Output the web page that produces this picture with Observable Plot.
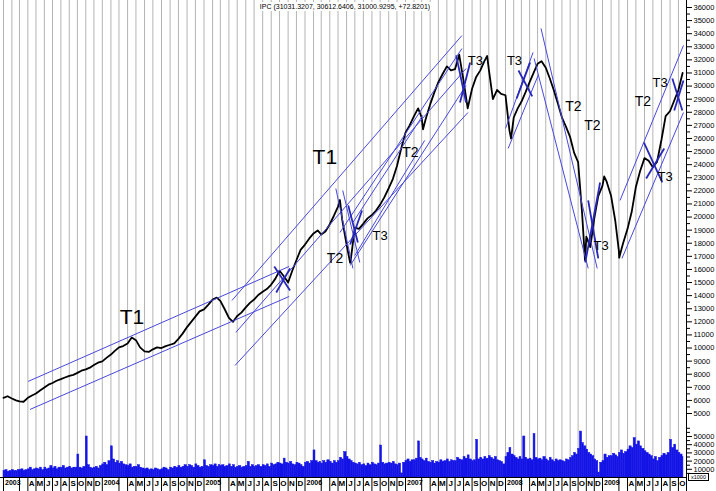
<!DOCTYPE html>
<html><head><meta charset="utf-8">
<script src="https://cdn.jsdelivr.net/npm/d3@7"></script>
<script src="https://cdn.jsdelivr.net/npm/@observablehq/plot@0.6"></script>
<style>
html,body{margin:0;padding:0;background:#fff;}
#wrap{position:relative;width:716px;height:491px;overflow:hidden;font-family:"Liberation Sans",Arial,sans-serif;}
#wrap svg{position:absolute;left:0;display:block;}
#title{position:absolute;top:2px;left:345px;transform:translateX(-50%);background:#fff;font-size:7px;padding:0 2px;white-space:nowrap;color:#000;line-height:9px;}
#unit{position:absolute;left:688px;top:473px;width:19px;height:6px;border:1px solid #000;background:#fff;font-size:5.5px;line-height:6px;text-align:center;color:#000;}
</style></head><body><div id="wrap"></div>
<script>
// ---- data (IPC, semi-monthly samples on the 1st and 16th) ----
const ipc2003 = [6200,6320,6150,6000,5920,5900,6200,6380,6530,6760,6990,7200,7330,7500,7620,7750,7880,7950,8100,8270,8370,8500,8700,8880];
const ipc2004 = [8980,9250,9500,9800,10050,10150,10350,10800,10600,10050,9750,9700,9900,10050,10000,10150,10250,10350,10700,11100,11600,12000,12400,12800];
const ipc2005 = [12950,13300,13700,13850,13600,13000,12300,12000,12450,12700,13100,13450,13700,14050,14300,14500,14850,15300,15900,15500,15000,15900,16700,17500];
const ipc2006 = [17900,18350,18750,18980,18670,18900,19450,20100,20800,19800,17900,16700,19200,19100,19500,19900,20150,20500,20950,21500,22200,22900,23900,25200];
const ipc2007 = [26450,27000,27700,28300,27600,27500,28600,29500,30300,30900,31500,31200,31300,32400,30400,28300,29800,30700,31200,31900,31300,29000,29700,29400];
const ipc2008 = [29300,26600,27600,28300,28800,29500,30300,31000,31700,31900,31400,30600,29700,28700,27600,26900,26100,24900,24200,20300,18500,17700,19900,21600];
const ipc2009 = [22400,22700,21600,19700,17400,18000,19100,20400,22300,23500,24500,24300,23800,24200,25900,27700,28100,28900,29700,31000];
const ipcExtra = [["2006-05-08",21300],["2006-06-14",16500],["2007-03-06",26700],["2007-10-26",32300],["2008-01-22",26000],["2008-10-27",16700],["2009-01-07",23100],["2009-03-02",16900]];

// volume in thousands of the x1000 axis unit, four samples a month (1, 8, 16, 23)
const vol2003 = [8,9,7,8, 9,8,8,9, 9,10,8,9, 10,12,9,10, 11,10,12,9, 12,10,11,14, 11,13,10,12, 12,14,11,12, 13,11,12,12, 28,12,11,13, 50,15,12,11, 12,13,11,14];
const vol2004 = [16,18,15,20, 38,22,18,20, 17,19,16,15, 14,16,12,13, 13,15,12,11, 10,11,9,10, 9,11,10,9, 10,12,11,9, 12,11,13,12, 14,12,13,15, 13,15,14,12, 16,14,12,13];
const vol2005 = [21,14,13,15, 14,16,13,15, 14,15,13,14, 16,13,15,12, 13,14,12,13, 14,19,13,15, 13,14,15,13, 15,14,16,13, 17,15,16,18, 17,16,23,18, 17,19,16,15, 18,17,15,13];
const vol2006 = [18,19,17,20, 33,20,18,19, 17,20,18,21, 19,17,20,18, 20,24,22,31, 25,22,20,18, 17,16,18,15, 16,14,17,15, 18,16,15,17, 39,18,16,17, 18,17,19,16, 15,17,5,18];
const vol2007 = [20,22,19,21, 21,23,44,24, 22,20,23,19, 18,20,17,19, 18,21,19,20, 22,19,21,20, 20,24,22,21, 25,23,27,22, 20,21,46,22, 24,22,25,23, 26,24,22,25, 21,20,19,16];
const vol2008 = [25,30,36,28, 26,24,22,25, 22,50,24,22, 23,21,53,24, 22,23,21,25, 22,20,24,21, 19,22,20,21, 20,19,22,21, 24,26,30,28, 35,56,42,38, 34,30,28,26, 22,20,6,18];
const vol2009 = [20,28,24,26, 26,29,27,25, 30,33,29,31, 34,38,36,48, 40,44,38,35, 32,30,28,26, 22,25,20,24, 26,29,27,30, 46,36,40,33, 30,28,25];

// trend lines: [start date, start value, end date, end value]
const thinLines = [
  ["2003-04-02",7450,"2005-11-05",16230],
  ["2003-04-09",5310,"2005-11-05",13940],
  ["2005-04-12",13630,"2007-07-26",33860],
  ["2005-04-23",8670,"2007-08-17",27980],
  ["2005-04-26",11190,"2007-08-10",31340],
  ["2006-05-08",18820,"2007-07-26",32870],
  ["2006-06-14",16300,"2007-08-10",30050],
  ["2006-04-23",22180,"2006-06-24",16080],
  ["2006-05-18",22030,"2006-07-19",16530],
  ["2006-07-01",17070,"2007-03-12",25850],
  ["2006-06-24",19590,"2007-03-05",27760],
  ["2008-01-01",26760,"2008-04-14",32570],
  ["2008-01-11",25240,"2008-05-03",30810],
  ["2008-05-14",34400,"2008-12-12",16080],
  ["2008-04-18",32110,"2008-11-08",16080],
  ["2009-03-05",21270,"2009-10-19",33100],
  ["2009-03-12",16840,"2009-10-19",27980]
];
const t3Lines = [
  ["2005-09-12",16230,"2005-11-08",14400],
  ["2005-09-19",14240,"2005-11-08",16080],
  ["2006-06-07",20890,"2006-07-12",18060],
  ["2006-06-14",17910,"2006-07-27",20500],
  ["2007-07-05",32340,"2007-08-10",28750],
  ["2007-07-19",28750,"2007-08-25",31800],
  ["2008-02-12",29050,"2008-04-03",31800],
  ["2008-02-19",31190,"2008-04-11",29210],
  ["2008-10-28",16530,"2008-12-23",22640],
  ["2008-11-08",21270,"2008-12-16",16840],
  ["2009-05-30",25690,"2009-08-04",22640],
  ["2009-06-07",22950,"2009-08-11",25240],
  ["2009-09-09",30580,"2009-10-15",28140],
  ["2009-09-16",28140,"2009-10-19",30430]
];
const waveLabels = [
  ["T1","2004-04-17",12340],["T1","2006-03-14",24550],["T2","2006-04-20",16840],
  ["T3","2006-10-01",18600],["T2","2007-01-19",24930],["T3","2007-09-13",31950],
  ["T3","2008-02-04",31950],["T2","2008-09-13",28440],["T2","2008-11-24",26990],
  ["T3","2008-12-27",17830],["T2","2009-05-26",28820],["T3","2009-07-27",30280],
  ["T3","2009-08-14",23100]
];
const priceTicks = d3.range(5000, 36001, 1000);
const priceMinor = d3.range(5500, 36001, 1000);
const volTicks = [10000, 20000, 30000, 40000, 50000];
const volMinor = [5000, 15000, 25000, 35000, 45000, 55000, 60000];
const monthLetters = ["J","F","M","A","M","J","J","A","S","O","N","D"];
const titleText = "IPC (31031.3207, 30612.6406, 31000.9295, +72.8201)";

// ---- build ----
const D = s => { const [y,m,d] = s.split("-").map(Number); return new Date(y, m-1, d); };
const price = [];
[[2003,ipc2003],[2004,ipc2004],[2005,ipc2005],[2006,ipc2006],[2007,ipc2007],[2008,ipc2008],[2009,ipc2009]]
  .forEach(([yr, arr]) => arr.forEach((v,i) => price.push({date: new Date(yr, Math.floor(i/2), i%2 ? 16 : 1), value: v})));
ipcExtra.forEach(([s,v]) => price.push({date: D(s), value: v}));
price.sort((a,b) => a.date - b.date);

const vdays = [1,8,16,23];
const vol = [];
[[2003,vol2003],[2004,vol2004],[2005,vol2005],[2006,vol2006],[2007,vol2007],[2008,vol2008],[2009,vol2009]]
  .forEach(([yr, arr]) => arr.forEach((v,i) => vol.push({date: new Date(yr, Math.floor(i/4), vdays[i%4]), v: v*1000})));
vol.forEach((d,i) => d.end = i < vol.length-1 ? vol[i+1].date : D("2009-10-19"));

const xEnd = D("2009-10-30");
const xDomain = ["2003-01-01","2004-01-01","2005-01-01","2006-01-01","2007-01-01","2008-01-01","2009-01-01"].map(D).concat([xEnd]);
const xRange = [3, 101.8, 203.5, 304.5, 405, 505, 602, 686];
const months = [];
for (let y = 2003; y <= 2009; y++) for (let m = 0; m < 12; m++) { const d = new Date(y, m, 1); if (d <= D("2009-10-01")) months.push(d); }
const sepTicks = months.filter(d => d.getMonth() !== 1).concat([xEnd]);
const midTicks = months.filter(d => d.getMonth() >= 3).map(d => new Date(d.getFullYear(), d.getMonth(), 15));
const yearTicks = months.filter(d => d.getMonth() === 0);

const font = "Liberation Sans, Arial, sans-serif";
const gridColor = "#b4b4b4";
const thinBlue = "#4848e0";
const thickBlue = "#2828b8";
const sizeOf = t => t === "T1" ? 21 : t === "T2" ? 14 : 13;

const priceChart = Plot.plot({
  width: 716, height: 425,
  marginLeft: 0, marginRight: 30, marginTop: 0, marginBottom: 0,
  style: {fontFamily: font, fontSize: "7.5px", background: "white", color: "black"},
  x: {type: "time", domain: xDomain, range: xRange, axis: null, label: null},
  y: {domain: [4085, 36534], axis: null, label: null},
  marks: [
    Plot.ruleX(months, {stroke: gridColor, strokeWidth: 1}),
    Plot.line(price, {x: "date", y: "value", stroke: "black", strokeWidth: 1.8}),
    Plot.link(thinLines, {x1: d => D(d[0]), y1: d => d[1], x2: d => D(d[2]), y2: d => d[3], stroke: thinBlue, strokeWidth: 1}),
    Plot.link(t3Lines, {x1: d => D(d[0]), y1: d => d[1], x2: d => D(d[2]), y2: d => d[3], stroke: thickBlue, strokeWidth: 1.8}),
    Plot.text(waveLabels, {x: d => D(d[1]), y: d => d[2], text: d => d[0], fontSize: d => sizeOf(d[0]), fill: "black", fontFamily: font}),
    Plot.ruleX([xEnd], {stroke: "black"}),
    Plot.axisY(priceTicks, {anchor: "right", label: null, tickSize: 5, tickPadding: 2, tickFormat: d => String(d), fontSize: 7.5}),
    Plot.axisY(priceMinor, {anchor: "right", label: null, tickSize: 3, tickFormat: () => ""})
  ]
});

const volumeChart = Plot.plot({
  width: 716, height: 66,
  marginLeft: 0, marginRight: 30, marginTop: 0, marginBottom: 14,
  style: {fontFamily: font, fontSize: "7.5px", background: "white", color: "black"},
  x: {type: "time", domain: xDomain, range: xRange, axis: null, label: null},
  y: {domain: [0, 63400], axis: null, label: null},
  marks: [
    Plot.ruleX(months, {stroke: gridColor, strokeWidth: 1}),
    Plot.rectY(vol, {x1: "date", x2: "end", y: "v", fill: "#1414e6", stroke: "#1414e6", strokeWidth: 0.5}),
    Plot.ruleY([0], {stroke: "black"}),
    Plot.ruleX([xEnd], {stroke: "black"}),
    Plot.axisY(volTicks, {anchor: "right", label: null, tickSize: 5, tickPadding: 2, tickFormat: d => String(d), fontSize: 7.5}),
    Plot.axisY(volMinor, {anchor: "right", label: null, tickSize: 3, tickFormat: () => ""}),
    Plot.axisX(sepTicks, {label: null, tickSize: 14, tickFormat: () => "", stroke: "black"}),
    Plot.axisX(midTicks, {label: null, tickSize: 0, tickPadding: 3, tickFormat: d => monthLetters[d.getMonth()], fontSize: 8, fontWeight: "bold"}),
    Plot.axisX(yearTicks, {label: null, tickSize: 0, tickPadding: 3, tickFormat: d => String(d.getFullYear()), textAnchor: "start", dx: 1.5, fontSize: 7, fontWeight: "bold"})
  ]
});

const wrap = document.getElementById("wrap");
priceChart.style.top = "0px";
volumeChart.style.top = "425px";
wrap.appendChild(priceChart);
wrap.appendChild(volumeChart);
const t = document.createElement("div"); t.id = "title"; t.textContent = titleText; wrap.appendChild(t);
const u = document.createElement("div"); u.id = "unit"; u.textContent = "x1000"; wrap.appendChild(u);
</script></body></html>
